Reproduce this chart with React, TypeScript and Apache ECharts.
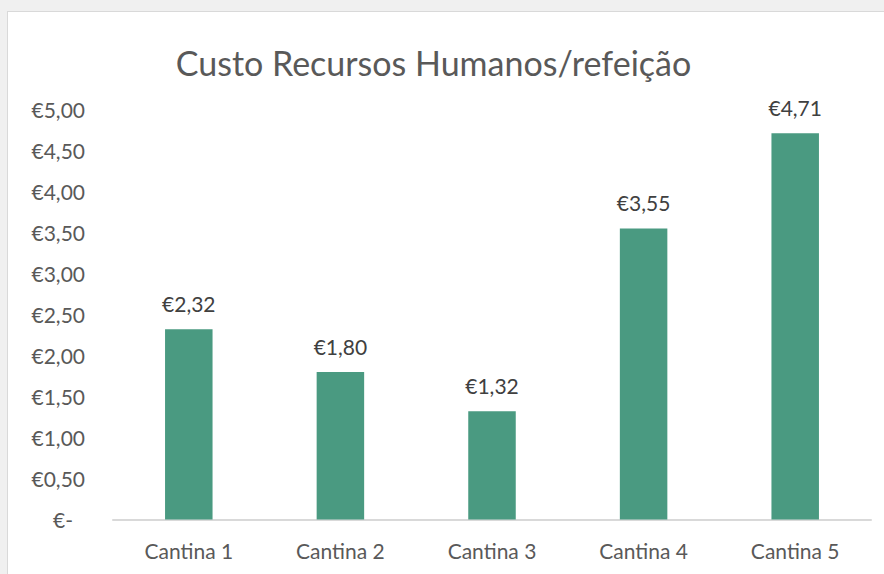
import React, { useEffect, useRef } from "react";
import * as echarts from "echarts";

const categories = ["Cantina 1", "Cantina 2", "Cantina 3", "Cantina 4", "Cantina 5"];
const values = [2.32, 1.8, 1.32, 3.55, 4.71];
const titleText = "Custo Recursos Humanos/refeição";
const yMin = 0;
const yMax = 5;
const yInterval = 0.5;

const FONT = "Lato, 'Open Sans', sans-serif";

function fmtEuro(v: number): string {
  if (Math.abs(v) < 1e-9) return "€-";
  return "€" + v.toFixed(2).replace(".", ",");
}

export default function App() {
  const ref = useRef<HTMLDivElement>(null);
  useEffect(() => {
    if (!ref.current) return;
    const chart = echarts.init(ref.current, null, { renderer: "svg" });
    chart.setOption({
      animation: false,
      backgroundColor: "#ffffff",
      graphic: [
        {
          type: "text",
          x: 425.5,
          y: 50,
          style: {
            text: titleText,
            textAlign: "center",
            textVerticalAlign: "middle",
            fontSize: 34,
            fontFamily: FONT,
            fill: "#595959",
          },
        },
      ],
      grid: { left: 105, width: 758, top: 97.5, height: 410, containLabel: false },
      xAxis: {
        type: "category",
        data: categories,
        axisLine: { lineStyle: { color: "#d9d9d9", width: 2 } },
        axisTick: { show: false },
        axisLabel: { color: "#595959", fontSize: 21, fontFamily: FONT, margin: 20 },
      },
      yAxis: {
        type: "value",
        min: yMin,
        max: yMax,
        interval: yInterval,
        splitLine: { show: false },
        axisLine: { show: false },
        axisTick: { show: false },
        axisLabel: {
          color: "#595959",
          fontSize: 21,
          fontFamily: FONT,
          margin: 28,
          formatter: (v: number) => (Math.abs(v) < 1e-9 ? "{d|" + fmtEuro(v) + "}" : fmtEuro(v)),
          rich: {
            d: { color: "#595959", fontSize: 21, fontFamily: FONT, padding: [0, 12, 0, 0] },
          },
        },
      },
      series: [
        {
          type: "bar",
          data: values,
          barWidth: 47.5,
          itemStyle: { color: "#4a9a81" },
          label: {
            show: true,
            position: "top",
            distance: 15,
            color: "#404040",
            fontSize: 21,
            fontFamily: FONT,
            formatter: (p: any) => fmtEuro(p.value),
          },
        },
      ],
    });
    return () => chart.dispose();
  }, []);
  return (
    <div style={{ position: "fixed", left: 0, top: 0, width: 884, height: 574, background: "#f0f0f0" }}>
      <div
        style={{
          position: "absolute",
          left: 7,
          top: 11,
          width: 877,
          height: 563,
          borderLeft: "1px solid #d9d9d9",
          borderTop: "1px solid #d9d9d9",
          background: "#ffffff",
        }}
      >
        <div ref={ref} style={{ width: 876, height: 562 }} />
      </div>
    </div>
  );
}
